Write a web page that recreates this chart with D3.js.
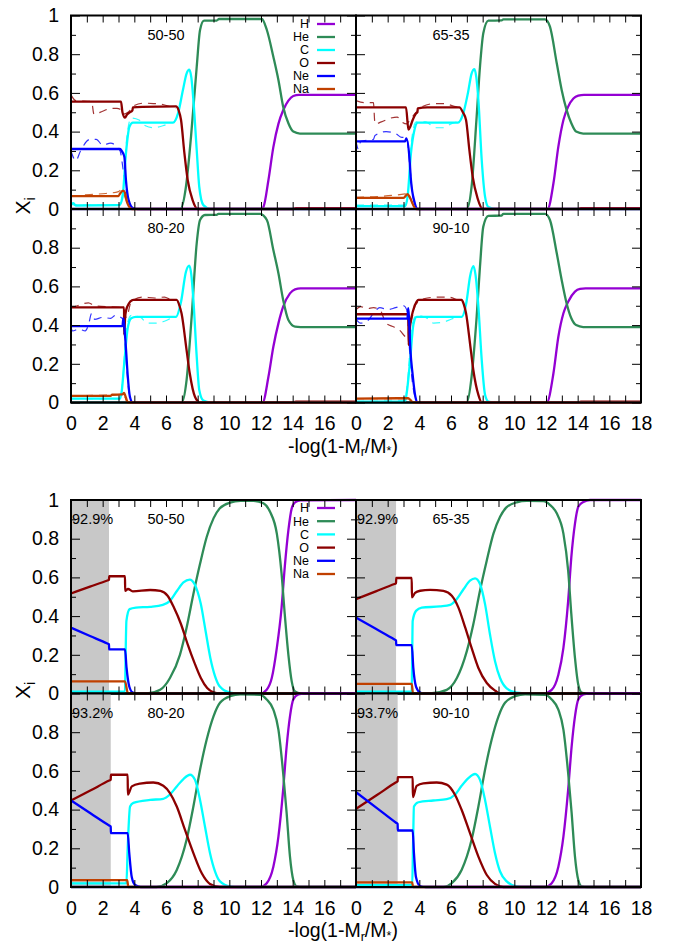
<!DOCTYPE html>
<html><head><meta charset="utf-8">
<script src="https://cdn.jsdelivr.net/npm/d3@7"></script>
<style>body{margin:0;background:#fff} text{font-family:"Liberation Sans",Arial,Helvetica,sans-serif;fill:#000}</style>
</head><body><svg id="c" width="684" height="944"></svg>
<script>
// ---------------- DATA: upper figure (a) ----------------
const a5050_H = [[0,0],[12.0,0],[12.15,0.01],[12.47,0.15],[12.78,0.32],[13.1,0.44],[13.4,0.51],[13.73,0.56],[14.04,0.584],[14.4,0.59],[18,0.59]];
const a5050_He = [[0,0],[6.9,0],[7.26,0.115],[7.58,0.374],[7.94,0.735],[8.15,0.925],[8.4,0.973],[9.2,0.974],[9.35,0.982],[12.05,0.982],[12.37,0.925],[12.78,0.787],[13.1,0.667],[13.4,0.529],[13.73,0.443],[14.04,0.4],[14.46,0.39],[18,0.39]];
const a5050_C = [[0,0.02],[0.15,0.03],[0.3,0.018],[3.05,0.02],[3.26,0.065],[3.47,0.288],[3.69,0.425],[3.91,0.446],[6.44,0.446],[6.76,0.494],[7.07,0.615],[7.3,0.70],[7.47,0.72],[7.6,0.68],[7.73,0.563],[7.94,0.305],[8.1,0.115],[8.36,0.02],[8.8,0],[18,0]];
const a5050_O = [[0,0.555],[3.16,0.555],[3.25,0.5],[3.41,0.472],[3.55,0.49],[3.69,0.498],[3.88,0.51],[3.91,0.525],[4.5,0.528],[6.63,0.53],[6.8,0.51],[6.95,0.46],[7.16,0.29],[7.37,0.15],[7.68,0.046],[8.0,0],[14,0],[14.2,0.005],[18,0.005]];
const a5050_Ne = [[0,0.31],[3.1,0.31],[3.2,0.3],[3.37,0.27],[3.47,0.15],[3.64,0.046],[3.91,0.005],[4.2,0],[18,0]];
const a5050_Na = [[0,0.067],[3.0,0.067],[3.1,0.08],[3.3,0.095],[3.4,0.085],[3.56,0.03],[3.84,0],[18,0]];
const a5050_Od = [[0,0.59],[0.3,0.56],[1.3,0.555],[1.45,0.49],[2.0,0.505],[2.5,0.52],[2.9,0.52],[3.1,0.515],[3.3,0.49],[3.6,0.5],[4.0,0.535],[4.6,0.547],[5.2,0.545],[5.8,0.54],[6.4,0.525],[6.6,0.52]];
const a5050_Ned = [[0,0.3],[0.3,0.25],[0.6,0.3],[1.2,0.36],[1.6,0.36],[2.0,0.33],[2.5,0.34],[3.1,0.3],[3.3,0.2],[3.6,0.05],[3.9,0]];
const a5050_Cd = [[0,0.04],[0.2,0.02],[3.0,0.02],[3.3,0.1],[3.5,0.35],[3.8,0.47],[4.3,0.46],[4.7,0.43],[5.2,0.42],[5.8,0.43],[6.3,0.445]];
const a5050_Nad = [[0,0.065],[1.2,0.075],[2.2,0.08],[3.0,0.09],[3.2,0.1],[3.5,0.04],[3.8,0]];

const a6535_H = [[0,0],[12.1,0],[12.47,0.133],[12.78,0.322],[13.1,0.46],[13.4,0.529],[13.73,0.571],[14.04,0.586],[14.4,0.59],[18,0.59]];
const a6535_He = [[0,0],[6.99,0],[7.3,0.115],[7.62,0.477],[7.83,0.735],[8.04,0.908],[8.36,0.973],[9.2,0.975],[9.3,0.98],[11.94,0.98],[12.25,0.942],[12.68,0.753],[12.99,0.615],[13.3,0.512],[13.6,0.443],[13.9,0.4],[14.35,0.39],[18,0.39]];
const a6535_C = [[0,0.015],[3.1,0.015],[3.26,0.065],[3.47,0.288],[3.69,0.408],[3.9,0.446],[6.44,0.446],[6.76,0.49],[7.07,0.6],[7.3,0.7],[7.48,0.723],[7.6,0.68],[7.73,0.563],[7.94,0.253],[8.15,0.064],[8.36,0.01],[8.8,0],[18,0]];
const a6535_O = [[0,0.525],[3.16,0.525],[3.31,0.41],[3.45,0.43],[3.58,0.46],[3.79,0.494],[3.88,0.5],[3.9,0.52],[4.5,0.525],[6.53,0.525],[6.75,0.5],[6.95,0.46],[7.16,0.305],[7.37,0.167],[7.68,0.055],[8.0,0],[14,0],[14.2,0.005],[18,0.005]];
const a6535_Ne = [[0,0.35],[3.1,0.35],[3.18,0.365],[3.37,0.27],[3.47,0.15],[3.69,0.038],[3.9,0],[18,0]];
const a6535_Na = [[0,0.058],[3.0,0.058],[3.26,0.077],[3.4,0.06],[3.79,0],[18,0]];
const a6535_Od = [[0,0.56],[0.5,0.55],[1.1,0.55],[1.2,0.44],[1.6,0.45],[2.2,0.47],[2.6,0.475],[2.9,0.45],[3.2,0.44],[3.4,0.46],[3.8,0.5],[4.2,0.53],[5.0,0.545],[5.6,0.545],[6.2,0.53],[6.5,0.525]];
const a6535_Ned = [[0,0.35],[0.15,0.31],[0.3,0.35],[1.1,0.36],[1.2,0.38],[1.9,0.4],[2.5,0.39],[2.9,0.37],[3.2,0.37],[3.4,0.22],[3.6,0.06],[3.9,0]];
const a6535_Cd = [[0,0.02],[3.0,0.02],[3.3,0.1],[3.5,0.35],[3.8,0.45],[4.4,0.45],[5.0,0.42],[5.5,0.42],[6.0,0.44],[6.4,0.45]];
const a6535_Nad = [[0,0.06],[1.5,0.065],[2.5,0.072],[3.1,0.078],[3.3,0.08],[3.55,0.03],[3.8,0]];

const a8020_H = [[0,0],[12.1,0],[12.47,0.133],[12.78,0.288],[13.1,0.409],[13.4,0.495],[13.83,0.564],[14.15,0.585],[14.5,0.59],[18,0.59]];
const a8020_He = [[0,0],[6.98,0],[7.3,0.116],[7.62,0.443],[7.94,0.823],[8.15,0.943],[8.46,0.969],[9.2,0.97],[9.3,0.975],[11.94,0.975],[12.37,0.943],[12.78,0.788],[13.1,0.668],[13.4,0.53],[13.73,0.426],[14.15,0.392],[14.5,0.39],[18,0.39]];
const a8020_C = [[0,0.02],[3.1,0.02],[3.2,0.056],[3.37,0.21],[3.58,0.383],[3.8,0.435],[4.1,0.443],[6.63,0.443],[6.95,0.521],[7.26,0.676],[7.47,0.707],[7.6,0.66],[7.73,0.53],[7.94,0.237],[8.1,0.065],[8.36,0.01],[8.8,0],[18,0]];
const a8020_O = [[0,0.492],[3.35,0.492],[3.36,0.349],[3.42,0.443],[3.55,0.495],[3.94,0.53],[6.67,0.53],[6.85,0.5],[6.98,0.461],[7.3,0.271],[7.5,0.151],[7.83,0.03],[8.15,0],[14,0],[14.2,0.005],[18,0.005]];
const a8020_Ne = [[0,0.395],[3.25,0.395],[3.31,0.435],[3.36,0.4],[3.47,0.28],[3.58,0.142],[3.72,0.03],[3.9,0],[18,0]];
const a8020_Na = [[0,0.034],[2.5,0.034],[2.6,0.04],[3.25,0.042],[3.35,0.05],[3.45,0.03],[3.6,0],[18,0]];
const a8020_Od = [[0,0.49],[0.4,0.5],[1.1,0.515],[1.5,0.5],[3.3,0.49],[3.5,0.44],[3.8,0.52],[4.5,0.545],[5.3,0.54],[5.9,0.545],[6.4,0.53],[6.6,0.53]];
const a8020_Ned = [[0,0.39],[0.1,0.37],[0.5,0.38],[0.9,0.37],[1.1,0.4],[1.3,0.46],[1.5,0.43],[2.0,0.44],[2.5,0.435],[2.8,0.45],[3.3,0.43],[3.5,0.2],[3.7,0.03],[3.9,0]];
const a8020_Cd = [[0,0.02],[3.1,0.02],[3.3,0.15],[3.5,0.38],[3.8,0.45],[4.4,0.44],[4.8,0.41],[5.3,0.41],[5.9,0.42],[6.4,0.44]];
const a8020_Nad = [[0,0.035],[3.1,0.04],[3.3,0.045],[3.5,0.01],[3.7,0]];

const a9010_H = [[0,0],[12.05,0],[12.47,0.151],[12.78,0.34],[13.1,0.461],[13.4,0.521],[13.83,0.573],[14.15,0.587],[14.5,0.59],[18,0.59]];
const a9010_He = [[0,0],[6.99,0],[7.3,0.133],[7.62,0.443],[7.83,0.702],[8.04,0.909],[8.36,0.964],[9.2,0.966],[9.3,0.975],[11.94,0.975],[12.25,0.943],[12.68,0.771],[12.99,0.633],[13.3,0.513],[13.6,0.435],[13.9,0.4],[14.35,0.39],[18,0.39]];
const a9010_C = [[0,0.005],[3.1,0.005],[3.2,0.048],[3.41,0.21],[3.62,0.4],[3.83,0.443],[6.67,0.443],[6.98,0.521],[7.2,0.65],[7.41,0.705],[7.55,0.66],[7.73,0.495],[7.94,0.22],[8.15,0.04],[8.36,0.005],[8.8,0],[18,0]];
const a9010_O = [[0,0.456],[3.31,0.456],[3.32,0.297],[3.41,0.392],[3.62,0.478],[3.83,0.521],[3.94,0.53],[6.67,0.53],[6.8,0.51],[6.95,0.461],[7.2,0.306],[7.41,0.168],[7.73,0.039],[7.94,0],[14,0],[14.2,0.005],[18,0.005]];
const a9010_Ne = [[0,0.433],[3.25,0.433],[3.3,0.487],[3.35,0.43],[3.43,0.28],[3.58,0.142],[3.75,0.03],[3.9,0],[18,0]];
const a9010_Na = [[0,0.02],[3.3,0.022],[3.45,0.012],[3.6,0],[18,0]];
const a9010_Od = [[0,0.48],[0.3,0.495],[0.7,0.485],[1.1,0.49],[1.5,0.48],[1.9,0.41],[2.4,0.39],[2.8,0.37],[3.0,0.35],[3.3,0.33],[3.5,0.42],[3.8,0.51],[4.5,0.54],[5.2,0.545],[5.8,0.545],[6.4,0.53],[6.7,0.52]];
const a9010_Ned = [[0,0.43],[0.3,0.41],[0.7,0.42],[1.1,0.46],[1.5,0.49],[2.0,0.48],[2.5,0.49],[3.0,0.5],[3.2,0.48],[3.4,0.25],[3.6,0.08],[3.9,0]];
const a9010_Cd = [[0,0.005],[3.1,0.01],[3.3,0.15],[3.5,0.38],[3.8,0.45],[4.4,0.44],[4.9,0.41],[5.5,0.415],[6.0,0.43],[6.5,0.445]];
const a9010_Nad = [[0,0.02],[3.2,0.02],[3.4,0.01],[3.6,0]];

// ---------------- DATA: lower figure (b) ----------------
const b5050_H = [[0,0],[11.94,0],[12.36,0.02],[12.68,0.08],[13.0,0.236],[13.3,0.444],[13.5,0.653],[13.73,0.844],[13.94,0.957],[14.15,0.988],[14.5,0.998],[18,1]];
const b5050_He = [[0,0],[4.8,0],[5.63,0.019],[6.25,0.08],[6.88,0.2],[7.3,0.34],[7.73,0.514],[8.15,0.67],[8.57,0.809],[9.0,0.905],[9.4,0.957],[10.05,0.986],[10.7,0.995],[11.5,0.996],[12.15,0.983],[12.57,0.939],[13.0,0.826],[13.3,0.618],[13.5,0.41],[13.73,0.2],[13.94,0.0625],[14.15,0.01],[14.5,0],[18,0]];
const b5050_C = [[0,0.01],[3.41,0.01],[3.45,0.2],[3.5,0.375],[3.7,0.436],[4.1,0.444],[5.0,0.448],[5.8,0.458],[6.25,0.479],[6.7,0.531],[7.1,0.574],[7.5,0.589],[7.8,0.566],[8.2,0.462],[8.5,0.323],[8.8,0.184],[9.1,0.089],[9.4,0.036],[10.05,0.005],[10.7,0],[18,0]];
const b5050_O = [[0,0.517],[1.2,0.552],[2.3,0.584],[2.4,0.587],[2.41,0.606],[3.41,0.606],[3.42,0.531],[3.6,0.54],[3.9,0.528],[5.0,0.535],[5.65,0.53],[6.1,0.505],[6.5,0.444],[6.95,0.358],[7.37,0.254],[7.8,0.158],[8.2,0.08],[8.6,0.028],[9.0,0.006],[9.4,0],[18,0]];
const b5050_Ne = [[0,0.34],[1.2,0.297],[2.3,0.258],[2.4,0.254],[2.41,0.228],[3.41,0.228],[3.51,0.132],[3.68,0.036],[3.9,0.005],[4.2,0],[18,0]];
const b5050_Na = [[0,0.0625],[3.41,0.0625],[3.6,0],[18,0]];

const b6535_H = [[0,0],[11.84,0],[12.36,0.019],[12.78,0.097],[13.1,0.236],[13.4,0.479],[13.6,0.705],[13.83,0.878],[14.04,0.965],[14.36,0.99],[14.78,1],[18,1]];
const b6535_He = [[0,0],[4.68,0],[5.73,0.019],[6.37,0.08],[7.0,0.219],[7.41,0.358],[7.83,0.531],[8.26,0.6875],[8.68,0.826],[9.1,0.913],[9.5,0.962],[10.15,0.988],[10.78,0.995],[11.84,0.994],[12.26,0.974],[12.68,0.931],[13.1,0.826],[13.4,0.635],[13.6,0.41],[13.83,0.184],[14.04,0.045],[14.25,0.005],[14.6,0],[18,0]];
const b6535_C = [[0,0.01],[3.52,0.01],[3.55,0.2],[3.58,0.375],[3.79,0.427],[4.15,0.444],[5.3,0.45],[5.95,0.458],[6.37,0.488],[6.8,0.54],[7.2,0.583],[7.52,0.595],[7.83,0.566],[8.15,0.462],[8.46,0.306],[8.78,0.167],[9.1,0.08],[9.5,0.028],[10.15,0.004],[10.8,0],[18,0]];
const b6535_O = [[0,0.488],[1.25,0.528],[2.43,0.566],[2.53,0.569],[2.54,0.597],[3.52,0.597],[3.53,0.497],[3.73,0.52],[4.05,0.531],[4.68,0.536],[5.52,0.53],[6.05,0.505],[6.47,0.444],[6.9,0.34],[7.3,0.236],[7.73,0.132],[8.26,0.054],[8.8,0.014],[9.1,0],[18,0]];
const b6535_Ne = [[0,0.392],[1.25,0.334],[2.43,0.279],[2.53,0.274],[2.54,0.25],[3.52,0.25],[3.62,0.132],[3.79,0.036],[4.05,0.005],[4.3,0],[18,0]];
const b6535_Na = [[0,0.05],[3.52,0.05],[3.6,0],[18,0]];

const b8020_H = [[0,0],[11.94,0],[12.36,0.02],[12.78,0.105],[13.1,0.26],[13.4,0.503],[13.62,0.727],[13.83,0.882],[14.04,0.969],[14.36,0.995],[14.7,1],[18,1]];
const b8020_He = [[0,0],[5.4,0],[6.05,0.02],[6.68,0.088],[7.3,0.244],[7.73,0.416],[8.15,0.606],[8.57,0.762],[9.0,0.882],[9.41,0.952],[10.05,0.986],[10.7,0.995],[11.94,0.993],[12.36,0.969],[12.78,0.917],[13.1,0.813],[13.4,0.589],[13.62,0.382],[13.83,0.157],[14.04,0.036],[14.25,0.003],[14.6,0],[18,0]];
const b8020_C = [[0,0.019],[3.5,0.019],[3.58,0.2],[3.73,0.416],[3.94,0.435],[5.0,0.45],[5.83,0.456],[6.25,0.478],[6.68,0.52],[7.1,0.558],[7.52,0.58],[7.83,0.554],[8.15,0.45],[8.46,0.313],[8.78,0.175],[9.1,0.08],[9.41,0.029],[10.05,0.003],[10.6,0],[18,0]];
const b8020_O = [[0,0.447],[1.25,0.5],[2.41,0.55],[2.51,0.554],[2.52,0.58],[3.58,0.58],[3.59,0.477],[3.84,0.52],[4.36,0.534],[5.2,0.54],[5.83,0.523],[6.25,0.485],[6.68,0.416],[7.2,0.295],[7.73,0.175],[8.26,0.071],[8.78,0.016],[9.41,0],[18,0]];
const b8020_Ne = [[0,0.447],[1.25,0.38],[2.41,0.318],[2.51,0.313],[2.52,0.278],[3.58,0.278],[3.68,0.175],[3.84,0.05],[4.05,0.01],[4.4,0],[18,0]];
const b8020_Na = [[0,0.036],[3.55,0.036],[3.62,0],[18,0]];

const b9010_H = [[0,0],[11.94,0],[12.36,0.02],[12.78,0.105],[13.1,0.26],[13.4,0.503],[13.62,0.727],[13.83,0.882],[14.04,0.969],[14.36,0.995],[14.7,1],[18,1]];
const b9010_He = [[0,0],[5.52,0],[6.05,0.02],[6.67,0.088],[7.3,0.244],[7.73,0.416],[8.15,0.606],[8.57,0.762],[9.0,0.882],[9.41,0.952],[10.05,0.986],[10.68,0.995],[11.94,0.993],[12.36,0.969],[12.78,0.917],[13.1,0.813],[13.4,0.589],[13.62,0.382],[13.83,0.157],[14.04,0.036],[14.25,0.003],[14.6,0],[18,0]];
const b9010_C = [[0,0.01],[3.55,0.01],[3.6,0.2],[3.66,0.416],[3.94,0.438],[4.88,0.447],[5.73,0.454],[6.25,0.477],[6.67,0.523],[7.1,0.563],[7.52,0.584],[7.83,0.554],[8.15,0.45],[8.46,0.313],[8.78,0.175],[9.1,0.08],[9.52,0.029],[10.15,0.003],[10.7,0],[18,0]];
const b9010_O = [[0,0.404],[1.3,0.474],[2.53,0.541],[2.63,0.546],[2.64,0.568],[3.58,0.568],[3.59,0.465],[3.83,0.523],[4.25,0.536],[5.1,0.54],[5.73,0.529],[6.25,0.477],[6.67,0.399],[7.2,0.278],[7.73,0.157],[8.26,0.062],[8.78,0.016],[9.3,0],[18,0]];
const b9010_Ne = [[0,0.49],[1.3,0.409],[2.53,0.332],[2.63,0.326],[2.64,0.292],[3.58,0.292],[3.66,0.175],[3.79,0.05],[4.04,0.005],[4.4,0],[18,0]];
const b9010_Na = [[0,0.024],[3.55,0.024],[3.6,0],[18,0]];

const elements = ["H","He","C","O","Ne","Na"];
const dashedElements = ["C","O","Ne","Na"];
const panelLabels = ["50-50","65-35","80-20","90-10"];
const bandEdges = [2.40, 2.53, 2.51, 2.63];
const bandLabels = ["92.9%","92.9%","93.2%","93.7%"];
const xTickValues = d3.range(0, 19, 1);
const yMajorTicks = [0,0.2,0.4,0.6,0.8,1];
const yMinorTicks = [0.1,0.3,0.5,0.7,0.9];

const colors = {H:"#9400d3",He:"#2e8b57",C:"#00ffff",O:"#8b0000",Ne:"#0000ff",Na:"#c04000"};

const figA = [
  {H:a5050_H,He:a5050_He,C:a5050_C,O:a5050_O,Ne:a5050_Ne,Na:a5050_Na, d:{C:a5050_Cd,O:a5050_Od,Ne:a5050_Ned,Na:a5050_Nad}},
  {H:a6535_H,He:a6535_He,C:a6535_C,O:a6535_O,Ne:a6535_Ne,Na:a6535_Na, d:{C:a6535_Cd,O:a6535_Od,Ne:a6535_Ned,Na:a6535_Nad}},
  {H:a8020_H,He:a8020_He,C:a8020_C,O:a8020_O,Ne:a8020_Ne,Na:a8020_Na, d:{C:a8020_Cd,O:a8020_Od,Ne:a8020_Ned,Na:a8020_Nad}},
  {H:a9010_H,He:a9010_He,C:a9010_C,O:a9010_O,Ne:a9010_Ne,Na:a9010_Na, d:{C:a9010_Cd,O:a9010_Od,Ne:a9010_Ned,Na:a9010_Nad}}
];
const figB = [
  {H:b5050_H,He:b5050_He,C:b5050_C,O:b5050_O,Ne:b5050_Ne,Na:b5050_Na},
  {H:b6535_H,He:b6535_He,C:b6535_C,O:b6535_O,Ne:b6535_Ne,Na:b6535_Na},
  {H:b8020_H,He:b8020_He,C:b8020_C,O:b8020_O,Ne:b8020_Ne,Na:b8020_Na},
  {H:b9010_H,He:b9010_He,C:b9010_C,O:b9010_O,Ne:b9010_Ne,Na:b9010_Na}
];

// ---------------- LAYOUT ----------------
const svg = d3.select("#c");
svg.append("rect").attr("width",684).attr("height",944).attr("fill","#fff");
const colX = [[71,356],[356,641]];
const figs = [
  {panels: figA, rows: [[15.5,209],[209,402.5]], band: false, legendY0: 24, legendDy: 13},
  {panels: figB, rows: [[500,693.5],[693.5,887]], band: true, legendY0: 508, legendDy: 13.2}
];
const fmt = v => (v === 0 ? "0" : v === 1 ? "1" : d3.format(".1f")(v));

figs.forEach(fig => {
  fig.panels.forEach((p, i) => {
    const row = Math.floor(i / 2), col = i % 2;
    const x = d3.scaleLinear().domain([0, 18]).range(colX[col]);
    const y = d3.scaleLinear().domain([0, 1]).range([fig.rows[row][1], fig.rows[row][0]]);
    const g = svg.append("g");
    const line = d3.line().x(d => x(d[0])).y(d => y(d[1])).curve(d3.curveMonotoneX);

    if (fig.band) {
      g.append("rect").attr("x", x(0)).attr("y", y(1))
        .attr("width", x(bandEdges[i]) - x(0)).attr("height", y(0) - y(1))
        .attr("fill", "#c8c8c8");
    }
    if (p.d) {
      dashedElements.forEach(el => {
        g.append("path").datum(p.d[el]).attr("d", line)
          .attr("fill", "none").attr("stroke", colors[el]).attr("stroke-opacity", 0.8)
          .attr("stroke-width", 1.2).attr("stroke-dasharray", "8,6");
      });
    }
    elements.forEach(el => {
      g.append("path").datum(p[el]).attr("d", line)
        .attr("fill", "none").attr("stroke", colors[el])
        .attr("stroke-width", 2.3).attr("stroke-linejoin", "round");
    });

    // axes (inward ticks)
    const showX = row === 1;
    const xLab = v => (showX && v % 2 === 0 && (col === 1 || v < 18)) ? String(v) : "";
    const ax = (gen, tr) => {
      const a = g.append("g").attr("transform", tr).call(gen);
      a.select(".domain").remove();
      a.selectAll("line").attr("stroke", "#000").attr("stroke-width", 1);
      a.selectAll("text").style("font-size", "19.5px").attr("fill", "#000");
      a.selectAll("text").filter(function () { return this.textContent === ""; }).remove();
      return a;
    };
    ax(d3.axisBottom(x).tickValues(xTickValues).tickSize(-7).tickPadding(14).tickFormat(xLab), `translate(0,${y(0)})`);
    ax(d3.axisTop(x).tickValues(xTickValues).tickSize(-7).tickFormat(""), `translate(0,${y(1)})`);
    const yLab = v => (col === 0 && (row === 0 || v < 1)) ? fmt(v) : "";
    ax(d3.axisLeft(y).tickValues(yMajorTicks).tickSize(-9).tickPadding(12).tickFormat(yLab), `translate(${x(0)},0)`);
    ax(d3.axisLeft(y).tickValues(yMinorTicks).tickSize(-5).tickFormat(""), `translate(${x(0)},0)`);
    ax(d3.axisRight(y).tickValues(yMajorTicks).tickSize(-9).tickFormat(""), `translate(${x(18)},0)`);
    ax(d3.axisRight(y).tickValues(yMinorTicks).tickSize(-5).tickFormat(""), `translate(${x(18)},0)`);

    g.append("rect").attr("x", x(0)).attr("y", y(1)).attr("width", x(18) - x(0)).attr("height", y(0) - y(1))
      .attr("fill", "none").attr("stroke", "#000").attr("stroke-width", 2);

    g.append("text").attr("x", x(6)).attr("y", y(0.9)).attr("text-anchor", "middle")
      .attr("dy", "0.35em").style("font-size", "14.5px").text(panelLabels[i]);
    if (fig.band) {
      g.append("text").attr("x", x(0) + 1).attr("y", y(0.9)).attr("dy", "0.35em")
        .style("font-size", "14.5px").text(bandLabels[i]);
    }

    if (i === 0) {
      elements.forEach((el, k) => {
        const ly = fig.legendY0 + k * fig.legendDy;
        g.append("line").attr("x1", x(18) - 39).attr("x2", x(18) - 21).attr("y1", ly).attr("y2", ly)
          .attr("stroke", colors[el]).attr("stroke-width", 2.3);
        g.append("text").attr("x", x(18) - 47).attr("y", ly).attr("dy", "0.35em")
          .attr("text-anchor", "end").style("font-size", "12.5px").text(el);
      });
    }
  });

  // axis titles
  const bottom = fig.rows[1][1], mid = fig.rows[0][1];
  const xt = svg.append("text").attr("x", 343).attr("y", bottom + 50).attr("text-anchor", "middle").style("font-size", "19.5px");
  xt.append("tspan").text("-log(1-M");
  xt.append("tspan").attr("dy", 3.5).style("font-size", "12.5px").text("r");
  xt.append("tspan").attr("dy", -3.5).text("/M");
  xt.append("tspan").attr("dy", 2.5).style("font-size", "12.5px").text("*");
  xt.append("tspan").attr("dy", -2.5).text(")");

  const yt = svg.append("text").attr("transform", `translate(30,${mid - 3}) rotate(-90)`).attr("text-anchor", "middle").style("font-size", "21px");
  yt.append("tspan").text("X");
  yt.append("tspan").attr("dy", 5).style("font-size", "14px").text("i");
});
</script></body></html>
